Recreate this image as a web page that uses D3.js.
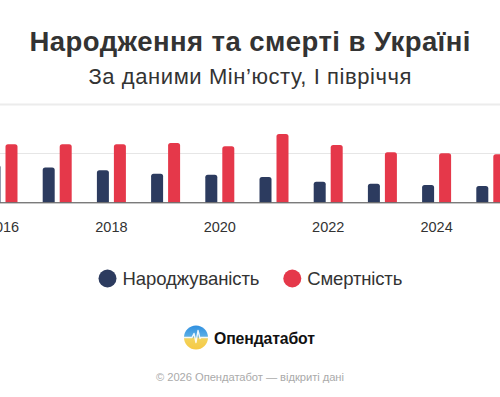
<!DOCTYPE html>
<html>
<head>
<meta charset="utf-8">
<script src="https://cdn.jsdelivr.net/npm/d3@7"></script>
<style>
  html, body { margin: 0; padding: 0; background: #fff; }
  svg { display: block; font-family: "Liberation Sans", Arial, Helvetica, sans-serif; }
</style>
</head>
<body>
<svg id="chart" width="500" height="397"></svg>
<script>
// ---- data ----
const years = [2016, 2017, 2018, 2019, 2020, 2021, 2022, 2023, 2024, 2025];
const births = [190000, 177000, 163000, 146000, 141000, 129000, 105000, 95000, 88000, 83000];
const deaths = [296000, 296000, 296000, 303000, 286000, 348000, 292000, 255000, 250000, 245000];
const seriesNames = ["Народжуваність", "Смертність"];
const seriesColors = ["#2c3b5f", "#e5384a"];
const yTicks = [0, 250000, 500000];
const xTickYears = [2016, 2018, 2020, 2022, 2024];
const title = "Народження та смерті в Україні";
const subtitle = "За даними Мін’юсту, І півріччя";
const brand = "Опендатабот";
const footer = "© 2026 Опендатабот — відкриті дані";

const svg = d3.select("#chart");
const W = 500;

// titles
svg.append("text").attr("x", W / 2).attr("y", 51)
  .attr("text-anchor", "middle").attr("font-size", 27.5).attr("font-weight", "bold")
  .attr("textLength", 441).attr("lengthAdjust", "spacing")
  .attr("fill", "#333").text(title);
svg.append("text").attr("x", W / 2).attr("y", 84)
  .attr("text-anchor", "middle").attr("font-size", 22)
  .attr("textLength", 323).attr("lengthAdjust", "spacing")
  .attr("fill", "#333").text(subtitle);

// scales
const step = 54.2;
const firstCenter = 3;
const x0 = d3.scaleBand().domain(years)
  .range([firstCenter - step / 2, firstCenter - step / 2 + step * years.length])
  .padding(0);
const x1 = d3.scaleBand().domain(seriesNames)
  .range([step / 2 - 14.5, step / 2 + 14.5]).paddingInner(0.294);
const y = d3.scaleLinear().domain([0, 500000]).range([202.3, 104.3]);

// grid
const grid = svg.append("g");
grid.selectAll("line").data(yTicks.filter(d => d > 0)).join("line")
  .attr("x1", 0).attr("x2", W)
  .attr("y1", d => Math.round(y(d)) + 0.5).attr("y2", d => Math.round(y(d)) + 0.5)
  .attr("stroke", d => d === 500000 ? "#ececec" : "#e6e6e6")
  .attr("stroke-width", d => d === 500000 ? 2 : 1);

// bars
const rows = years.map((yr, i) => ({ year: yr, values: [births[i], deaths[i]] }));
function barPath(x, yTop, w, yBase, r) {
  r = Math.min(r, w / 2, yBase - yTop);
  return `M${x},${yBase}V${yTop + r}Q${x},${yTop} ${x + r},${yTop}H${x + w - r}Q${x + w},${yTop} ${x + w},${yTop + r}V${yBase}Z`;
}
const groups = svg.append("g").selectAll("g").data(rows).join("g")
  .attr("transform", d => `translate(${x0(d.year)},0)`);
groups.selectAll("path").data(d => d.values.map((v, i) => ({ v, i }))).join("path")
  .attr("d", d => barPath(x1(seriesNames[d.i]), y(d.v), x1.bandwidth(), y(0), 2.5))
  .attr("fill", d => seriesColors[d.i]);

// baseline
svg.append("line").attr("x1", 0).attr("x2", W)
  .attr("y1", y(0) + 0.5).attr("y2", y(0) + 0.5)
  .attr("stroke", "#444").attr("stroke-width", 1);

// x axis
const xAxis = d3.axisBottom(x0).tickValues(xTickYears).tickSize(0).tickPadding(0).tickFormat(d3.format("d"));
const gx = svg.append("g").attr("transform", `translate(0,${y(0)})`).call(xAxis);
gx.select(".domain").remove();
gx.selectAll("text").attr("font-size", 14.5).attr("fill", "#333")
  .attr("font-family", "Liberation Sans, Arial, sans-serif").attr("dy", "2.05em");

// legend
const legend = svg.append("g");
const legendItems = [
  { name: seriesNames[0], color: seriesColors[0], cx: 107.5, len: 137 },
  { name: seriesNames[1], color: seriesColors[1], cx: 292.3, len: 95 }
];
legendItems.forEach(it => {
  legend.append("circle").attr("cx", it.cx).attr("cy", 278.5).attr("r", 9).attr("fill", it.color);
  legend.append("text").attr("x", it.cx + 15).attr("y", 284.5)
    .attr("font-size", 18.5).attr("textLength", it.len).attr("lengthAdjust", "spacing")
    .attr("fill", "#333").text(it.name);
});

// brand logo
const defs = svg.append("defs");
const grad = defs.append("linearGradient").attr("id", "logoGrad").attr("x1", 0).attr("x2", 0).attr("y1", 0).attr("y2", 1);
grad.append("stop").attr("offset", "0%").attr("stop-color", "#2f8fe0");
grad.append("stop").attr("offset", "45%").attr("stop-color", "#5aaee6");
grad.append("stop").attr("offset", "55%").attr("stop-color", "#f3d35a");
grad.append("stop").attr("offset", "100%").attr("stop-color", "#f6c945");
const lx = 196, ly = 337.5;
svg.append("circle").attr("cx", lx).attr("cy", ly).attr("r", 12).attr("fill", "url(#logoGrad)");
svg.append("path")
  .attr("d", `M${lx - 12},${ly} H${lx - 4} L${lx - 2},${ly - 4} L${lx},${ly + 5} L${lx + 2},${ly - 7} L${lx + 4},${ly + 1} L${lx + 5},${ly} H${lx + 12}`)
  .attr("fill", "none").attr("stroke", "#fff").attr("stroke-width", 1.4).attr("stroke-linejoin", "round")
  .attr("opacity", 0.9);
svg.append("text").attr("x", 214).attr("y", 343.5)
  .attr("font-size", 15.8).attr("font-weight", "bold").attr("textLength", 101).attr("lengthAdjust", "spacing")
  .attr("fill", "#111").text(brand);

// footer
svg.append("text").attr("x", W / 2).attr("y", 380.5)
  .attr("text-anchor", "middle").attr("font-size", 11.2).attr("textLength", 188).attr("lengthAdjust", "spacing")
  .attr("fill", "#aaa").text(footer);
</script>
</body>
</html>
